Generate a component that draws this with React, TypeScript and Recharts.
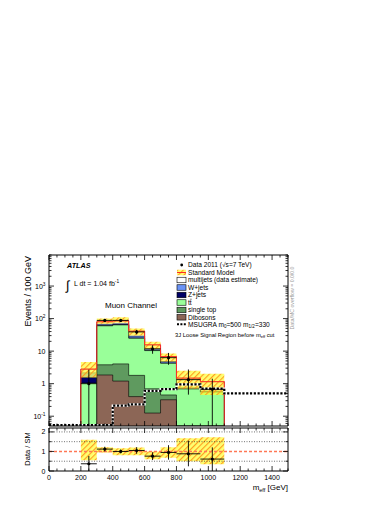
import React from 'react';
import { ComposedChart, Area, Line, Scatter, XAxis, YAxis, ErrorBar, ReferenceLine } from 'recharts';

const FONT = '"Liberation Sans", Arial, Helvetica, sans-serif';

// ---- data (events / 100 GeV) ----
const binEdges = [200, 300, 400, 500, 600, 700, 800, 950, 1100];
const dibosons = [0, 1.85, 1.2, 0.4, 0.125, 0.32, 0, 0];
const singleTop = [0, 1.95, 2.85, 1.4, 0.57, 0.13, 0, 0];
const ttbar = [1.05, 56.2, 59.95, 23.2, 9.7, 3.8, 0.69, 0.55];
const zJets = [0.5, 0.8, 0.7, 0.3, 0.1, 0.05, 0.01, 0.01];
const wJets = [0.6, 6.2, 4.3, 3.7, 1.5, 0.5, 0.05, 0.03];
const multijets = [0.65, 13, 16, 12, 3.6, 2.0, 0.73, 0.56];
const smBandLow = [1.55, 70, 75, 30, 11.5, 4.8, 0.7, 0.45];
const smBandHigh = [4.6, 100, 110, 50, 19.5, 8.5, 2.5, 2.0];
const dataValues = [1.0, 88, 88, 39, 11.7, 6.3, 1.33, 0.67];
const dataErrLow = [0.95, 9.4, 9.4, 6.2, 3.4, 2.5, 0.87, 0.62];
const dataErrHigh = [1.7, 9.4, 9.4, 6.2, 3.4, 2.5, 1.4, 0.75];
const msugraEdges = [0, 100, 200, 300, 400, 500, 600, 700, 800, 950, 1100, 1500];
const msugra = [0, 0, 0, 0, 0.21, 0.23, 0.6, 0.68, 0.95, 0.7, 0.5];
const ratioValues = [0.37, 1.12, 1.0, 1.05, 0.76, 0.95, 0.88, 0.61];
const ratioErrLow = [0.37, 0.12, 0.1, 0.17, 0.2, 0.37, 0.64, 0.61];
const ratioErrHigh = [0.4, 0.12, 0.1, 0.17, 0.2, 0.37, 0.67, 0.6];
const ratioBandLow = [0.55, 0.95, 0.8, 0.8, 0.6, 0.68, 0.5, 0.35];
const ratioBandHigh = [1.6, 1.22, 1.16, 1.2, 1.0, 1.22, 1.68, 1.73];

// ---- ticks ----
const xMajorTicks = [0, 200, 400, 600, 800, 1000, 1200, 1400];
const xTickLabels = ['0', '200', '400', '600', '800', '1000', '1200', '1400'];
const xMinorStep = 50;
const yDecades = [0.1, 1, 10, 100, 1000];
const yDecadeLabels: [string, string][] = [['10', '-1'], ['1', ''], ['10', ''], ['10', '2'], ['10', '3']];
const ratioMajorTicks = [0, 1, 2];
const ratioTickLabels = ['0', '1', '2'];
const ratioMinorTicks = [0.5, 1.5];
const ratioDottedLevels = [0.5, 1.5, 2];

const Y_DOMAIN: [number, number] = [0.05, 9000];
const FLOOR = 0.05;
const MS_FLOOR = 0.053;

const xTicks: number[] = [];
for (let v = 0; v <= 1500; v += xMinorStep) xTicks.push(v);
const yTicks: number[] = [0.06, 0.07, 0.08, 0.09];
yDecades.forEach((d) => { for (let k = 1; k <= 9; k++) if (d * k <= 9000) yTicks.push(d * k); });
const ratioTicks = [...ratioMajorTicks, ...ratioMinorTicks];

// ---- derived tables ----
const cumulate = (arrs: number[][]) => arrs[0].map((_, i) => arrs.reduce((s, a) => s + a[i], 0));
const cumDib = cumulate([dibosons]);
const cumTop = cumulate([dibosons, singleTop]);
const cumTt = cumulate([dibosons, singleTop, ttbar]);
const cumZ = cumulate([dibosons, singleTop, ttbar, zJets]);
const cumW = cumulate([dibosons, singleTop, ttbar, zJets, wJets]);
const cumSM = cumulate([dibosons, singleTop, ttbar, zJets, wJets, multijets]);

const stepRows = (values: number[], edges: number[], floor: number) => {
  const rows: { x: number; v: number }[] = [{ x: edges[0], v: floor }];
  values.forEach((v, i) => rows.push({ x: edges[i], v: Math.max(v, floor) }));
  rows.push({ x: edges[edges.length - 1], v: Math.max(values[values.length - 1], floor) });
  rows.push({ x: edges[edges.length - 1], v: floor });
  return rows;
};
const bandRows = (lo: number[], hi: number[], edges: number[]) =>
  edges.map((e, i) => ({ x: e, r: [lo[Math.min(i, lo.length - 1)], hi[Math.min(i, hi.length - 1)]] }));

const centers = binEdges.slice(0, -1).map((e, i) => (e + binEdges[i + 1]) / 2);
const halfWidths = binEdges.slice(0, -1).map((e, i) => (binEdges[i + 1] - e) / 2);
const dataRows = dataValues.map((v, i) => ({ x: centers[i], y: v, ex: halfWidths[i], ey: [dataErrLow[i], dataErrHigh[i]] }));
const ratioRows = ratioValues.map((v, i) => ({ x: centers[i], y: v, ex: halfWidths[i], ey: [ratioErrLow[i], ratioErrHigh[i]] }));
const msugraRows = msugraEdges.map((e, i) => ({ x: e, v: Math.max(msugra[Math.min(i, msugra.length - 1)], MS_FLOOR) }));

// ---- tick renderers ----
const BottomTick = (p: any, withLabels: boolean) => {
  const { x, y, payload } = p;
  const v = payload.value;
  const idx = xMajorTicks.indexOf(v);
  const len = idx >= 0 ? 5 : 2.5;
  return (
    <g>
      <line x1={x} y1={y} x2={x} y2={y - len} stroke="#000" strokeWidth={0.8} />
      {withLabels && idx >= 0 && (
        <text x={x} y={y + 9} textAnchor="middle" fontSize={7} fontFamily={FONT} fill="#000">{xTickLabels[idx]}</text>
      )}
    </g>
  );
};
const TopTick = (p: any) => {
  const { x, y, payload } = p;
  const len = xMajorTicks.indexOf(payload.value) >= 0 ? 5 : 2.5;
  return <line x1={x} y1={y} x2={x} y2={y + len} stroke="#000" strokeWidth={0.8} />;
};
const isDecade = (v: number) => yDecades.findIndex((d) => Math.abs(d - v) < d * 1e-6);
const LeftLogTick = (p: any) => {
  const { x, y, payload } = p;
  const idx = isDecade(payload.value);
  const len = idx >= 0 ? 5 : 2.5;
  const lab = idx >= 0 ? yDecadeLabels[idx] : null;
  return (
    <g>
      <line x1={x} y1={y} x2={x + len} y2={y} stroke="#000" strokeWidth={0.8} />
      {lab && (
        <text x={x - 3.5} y={y + 2.5} textAnchor="end" fontSize={7} fontFamily={FONT} fill="#000">
          {lab[0]}
          {lab[1] && <tspan dy={-3} fontSize={4.8}>{lab[1]}</tspan>}
        </text>
      )}
    </g>
  );
};
const RightLogTick = (p: any) => {
  const { x, y, payload } = p;
  const len = isDecade(payload.value) >= 0 ? 5 : 2.5;
  return <line x1={x} y1={y} x2={x - len} y2={y} stroke="#000" strokeWidth={0.8} />;
};
const LeftRatioTick = (p: any) => {
  const { x, y, payload } = p;
  const idx = ratioMajorTicks.indexOf(payload.value);
  const len = idx >= 0 ? 5 : 2.5;
  return (
    <g>
      <line x1={x} y1={y} x2={x + len} y2={y} stroke="#000" strokeWidth={0.8} />
      {idx >= 0 && (
        <text x={x - 3.5} y={y + 2.5} textAnchor="end" fontSize={7} fontFamily={FONT} fill="#000">{ratioTickLabels[idx]}</text>
      )}
    </g>
  );
};
const RightRatioTick = (p: any) => {
  const { x, y, payload } = p;
  const len = ratioMajorTicks.indexOf(payload.value) >= 0 ? 5 : 2.5;
  return <line x1={x} y1={y} x2={x - len} y2={y} stroke="#000" strokeWidth={0.8} />;
};

const dot = (p: any) => <circle cx={p.cx} cy={p.cy} r={1.6} fill="#000" />;
const axisLine = { stroke: '#000', strokeWidth: 1 };

const COLORS = {
  multijets: '#ffffff',
  wjets: '#6b93f5',
  zjets: '#000066',
  ttbar: '#99ff99',
  singleTop: '#5f9a5f',
  dibosons: '#8c6656',
  sm: '#ff2a2a',
};

const histArea = (key: string, values: number[], fill: string) => (
  <Area
    key={key}
    xAxisId="b"
    yAxisId="l"
    data={stepRows(values, binEdges, FLOOR)}
    dataKey="v"
    type="stepAfter"
    fill={fill}
    fillOpacity={1}
    stroke="#000"
    strokeWidth={0.6}
    baseValue={FLOOR}
    isAnimationActive={false}
    dot={false}
    activeDot={false}
  />
);

// plot frames
const MAIN_TOP = 255;
const MAIN_BOTTOM = 426;
const RATIO_TOP = 428;
const RATIO_BOTTOM = 471;
const PLOT_LEFT = 49;
const PLOT_RIGHT = 288;

function MainChart() {
  return (
    <ComposedChart width={390} height={505}
      margin={{ top: MAIN_TOP - 1, right: 390 - PLOT_RIGHT - 1, bottom: 505 - MAIN_BOTTOM - 1, left: 0 }}>
      <XAxis xAxisId="b" dataKey="x" type="number" domain={[0, 1500]} allowDataOverflow ticks={xTicks} interval={0}
        height={1} tickSize={0} tickMargin={0} tickLine={false} axisLine={axisLine} tick={(p: any) => BottomTick(p, false)} />
      <XAxis xAxisId="t" orientation="top" dataKey="x" type="number" domain={[0, 1500]} allowDataOverflow ticks={xTicks} interval={0}
        height={1} tickSize={0} tickMargin={0} tickLine={false} axisLine={axisLine} tick={TopTick} />
      <YAxis yAxisId="l" type="number" scale="log" domain={Y_DOMAIN} allowDataOverflow ticks={yTicks} interval={0}
        width={PLOT_LEFT} tickSize={0} tickMargin={0} tickLine={false} axisLine={axisLine} tick={LeftLogTick} />
      <YAxis yAxisId="r" orientation="right" type="number" scale="log" domain={Y_DOMAIN} allowDataOverflow ticks={yTicks} interval={0}
        width={1} tickSize={0} tickMargin={0} tickLine={false} axisLine={axisLine} tick={RightLogTick} />

      {histArea('sm', cumSM, COLORS.multijets)}
      {histArea('w', cumW, COLORS.wjets)}
      {histArea('z', cumZ, COLORS.zjets)}
      {histArea('tt', cumTt, COLORS.ttbar)}
      {histArea('st', cumTop, COLORS.singleTop)}
      {histArea('db', cumDib, COLORS.dibosons)}

      <Area xAxisId="b" yAxisId="l" data={bandRows(smBandLow, smBandHigh, binEdges)} dataKey="r" type="stepAfter"
        fill="url(#hatchBand)" fillOpacity={1} stroke="none" isAnimationActive={false} dot={false} activeDot={false} />
      <Line xAxisId="b" yAxisId="l" data={stepRows(cumSM, binEdges, FLOOR)} dataKey="v" type="stepAfter"
        stroke={COLORS.sm} strokeWidth={1} dot={false} activeDot={false} isAnimationActive={false} />

      <Line xAxisId="b" yAxisId="l" data={msugraRows} dataKey="v" type="stepAfter"
        stroke="#ffffff" strokeWidth={2.2} dot={false} activeDot={false} isAnimationActive={false} />
      <Line xAxisId="t" yAxisId="r" data={msugraRows} dataKey="v" type="stepAfter"
        stroke="#000" strokeWidth={2.2} strokeDasharray="2.2 1.6" dot={false} activeDot={false} isAnimationActive={false} />

      <Scatter xAxisId="b" yAxisId="l" data={dataRows} dataKey="y" shape={dot} isAnimationActive={false}>
        <ErrorBar dataKey="ey" direction="y" width={0} stroke="#000" strokeWidth={0.9} isAnimationActive={false} />
        <ErrorBar dataKey="ex" direction="x" width={0} stroke="#000" strokeWidth={0.9} isAnimationActive={false} />
      </Scatter>
    </ComposedChart>
  );
}

function RatioChart() {
  return (
    <ComposedChart width={390} height={505}
      margin={{ top: RATIO_TOP - 1, right: 390 - PLOT_RIGHT - 1, bottom: 505 - RATIO_BOTTOM - 1, left: 0 }}>
      <XAxis xAxisId="b" dataKey="x" type="number" domain={[0, 1500]} allowDataOverflow ticks={xTicks} interval={0}
        height={1} tickSize={0} tickMargin={0} tickLine={false} axisLine={axisLine} tick={(p: any) => BottomTick(p, true)} />
      <XAxis xAxisId="t" orientation="top" dataKey="x" type="number" domain={[0, 1500]} allowDataOverflow ticks={xTicks} interval={0}
        height={1} tickSize={0} tickMargin={0} tickLine={false} axisLine={axisLine} tick={TopTick} />
      <YAxis yAxisId="l" type="number" domain={[0, 2.2]} allowDataOverflow ticks={ratioTicks} interval={0}
        width={PLOT_LEFT} tickSize={0} tickMargin={0} tickLine={false} axisLine={axisLine} tick={LeftRatioTick} />
      <YAxis yAxisId="r" orientation="right" type="number" domain={[0, 2.2]} allowDataOverflow ticks={ratioTicks} interval={0}
        width={1} tickSize={0} tickMargin={0} tickLine={false} axisLine={axisLine} tick={RightRatioTick} />

      {ratioDottedLevels.map((lv) => (
        <ReferenceLine key={lv} xAxisId="b" yAxisId="l" y={lv} stroke="#333" strokeWidth={0.7} strokeDasharray="1 1.5" />
      ))}
      <Area xAxisId="t" yAxisId="r" data={bandRows(ratioBandLow, ratioBandHigh, binEdges)} dataKey="r" type="stepAfter"
        fill="url(#hatchBand)" fillOpacity={1} stroke="none" isAnimationActive={false} dot={false} activeDot={false} />
      <ReferenceLine xAxisId="b" yAxisId="l" y={1} stroke="#ff7755" strokeWidth={1.4} strokeDasharray="3 2" />
      <Scatter xAxisId="b" yAxisId="l" data={ratioRows} dataKey="y" shape={dot} isAnimationActive={false}>
        <ErrorBar dataKey="ey" direction="y" width={0} stroke="#000" strokeWidth={0.9} isAnimationActive={false} />
        <ErrorBar dataKey="ex" direction="x" width={0} stroke="#000" strokeWidth={0.9} isAnimationActive={false} />
      </Scatter>
    </ComposedChart>
  );
}

const LX = 177;
const LW = 9;
const LH = 5.5;
const TX = 188;
const LFONT = 6.6;
const legendY = [265, 272.5, 280, 287.5, 295, 302.5, 310, 317.3, 324.3];

function Box({ y, fill }: { y: number; fill: string }) {
  return <rect x={LX} y={y - LH / 2} width={LW} height={LH} fill={fill} stroke="#000" strokeWidth={0.6} />;
}
function LText({ y, children }: { y: number; children: React.ReactNode }) {
  return (
    <text x={TX} y={y + 2.3} fontSize={LFONT} fontFamily={FONT} fill="#000">{children}</text>
  );
}

function Overlay() {
  return (
    <svg width={390} height={505} style={{ position: 'absolute', left: 0, top: 0 }}>
      {/* ATLAS label */}
      <text x={67} y={267.5} fontSize={7.2} fontWeight="bold" fontStyle="italic" fontFamily={FONT}>ATLAS</text>
      <text x={66} y={289.5} fontSize={13} fontFamily={FONT}>∫</text>
      <text x={74} y={285.5} fontSize={7} fontFamily={FONT}>
        L dt = 1.04 fb<tspan dy={-3} fontSize={4.8}>-1</tspan>
      </text>
      <text x={105} y={308} fontSize={8} fontFamily={FONT}>Muon Channel</text>

      {/* legend */}
      <circle cx={181.7} cy={legendY[0]} r={1.4} fill="#000" />
      <LText y={legendY[0]}>Data 2011 (√s=7 TeV)</LText>
      <rect x={LX} y={legendY[1] - LH / 2} width={LW} height={LH} fill="url(#hatchBand)" />
      <line x1={LX} x2={LX + LW} y1={legendY[1]} y2={legendY[1]} stroke={COLORS.sm} strokeWidth={1} />
      <LText y={legendY[1]}>Standard Model</LText>
      <Box y={legendY[2]} fill={COLORS.multijets} />
      <LText y={legendY[2]}>multijets (data estimate)</LText>
      <Box y={legendY[3]} fill={COLORS.wjets} />
      <LText y={legendY[3]}>W+jets</LText>
      <Box y={legendY[4]} fill={COLORS.zjets} />
      <LText y={legendY[4]}>Z+jets</LText>
      <Box y={legendY[5]} fill={COLORS.ttbar} />
      <LText y={legendY[5]}>tt</LText>
      <line x1={TX + 1.9} x2={TX + 3.8} y1={legendY[5] - 3.3} y2={legendY[5] - 3.3} stroke="#000" strokeWidth={0.5} />
      <Box y={legendY[6]} fill={COLORS.singleTop} />
      <LText y={legendY[6]}>single top</LText>
      <Box y={legendY[7]} fill={COLORS.dibosons} />
      <LText y={legendY[7]}>Dibosons</LText>
      <line x1={LX} x2={LX + LW} y1={legendY[8]} y2={legendY[8]} stroke="#000" strokeWidth={2} strokeDasharray="2 1.4" />
      <LText y={legendY[8]}>
        MSUGRA m<tspan dy={1.3} fontSize={4.5}>0</tspan><tspan dy={-1.3}>=500 m</tspan>
        <tspan dy={1.3} fontSize={4.5}>1/2</tspan><tspan dy={-1.3}>=330</tspan>
      </LText>
      <text x={175} y={336.5} fontSize={5.8} fontFamily={FONT}>
        3J Loose Signal Region before m<tspan dy={1.2} fontSize={4}>eff</tspan><tspan dy={-1.2}> cut</tspan>
      </text>

      {/* right vertical note */}
      <text x={0} y={0} fontSize={5.2} fontFamily={FONT} fill="#999" textAnchor="middle"
        transform="translate(294.2,298) rotate(-90)">Data/MC overflow = 0.0/0.0</text>

      {/* axis titles */}
      <text x={0} y={0} fontSize={9} fontFamily={FONT} textAnchor="end"
        transform="translate(31,256) rotate(-90)">Events / 100 GeV</text>
      <text x={0} y={0} fontSize={7.5} fontFamily={FONT} textAnchor="middle"
        transform="translate(30,449) rotate(-90)">Data / SM</text>
      <text x={288} y={489.5} fontSize={8} fontFamily={FONT} textAnchor="end">
        m<tspan dy={2} fontSize={5.5}>eff</tspan><tspan dy={-2}> [GeV]</tspan>
      </text>
    </svg>
  );
}

export default function App() {
  return (
    <div style={{ position: 'absolute', left: 0, top: 0, width: 390, height: 505, background: '#fff', overflow: 'hidden' }}>
      <svg width={0} height={0} style={{ position: 'absolute' }}>
        <defs>
          <pattern id="hatchBand" width={4} height={4} patternUnits="userSpaceOnUse" patternTransform="rotate(45)">
            <rect x={0} y={0} width={4} height={4} fill="#ffff33" fillOpacity={0.7} />
            <line x1={0.6} y1={0} x2={0.6} y2={4} stroke="#ff9a1a" strokeWidth={1.1} />
          </pattern>
        </defs>
      </svg>
      <div style={{ position: 'absolute', left: 0, top: 0 }}>
        <MainChart />
      </div>
      <div style={{ position: 'absolute', left: 0, top: 0 }}>
        <RatioChart />
      </div>
      <Overlay />
    </div>
  );
}
